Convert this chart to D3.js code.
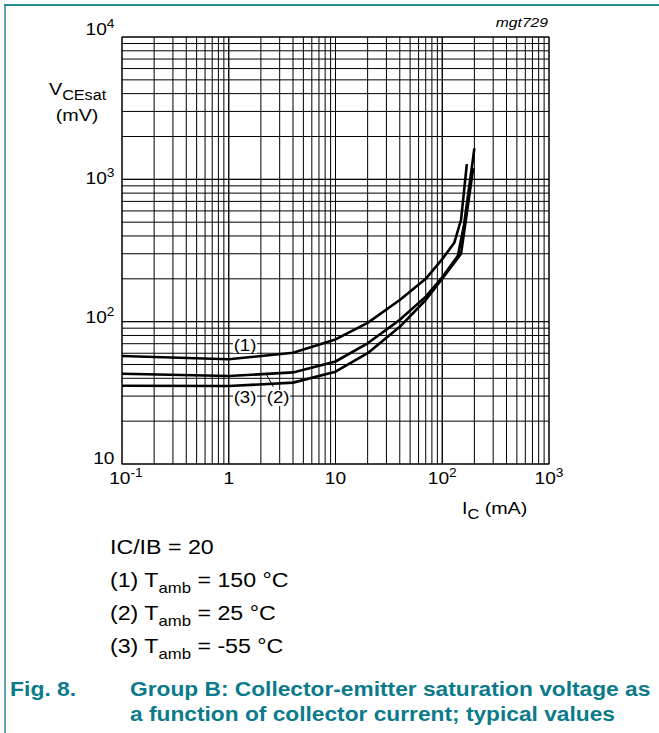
<!DOCTYPE html>
<html><head><meta charset="utf-8">
<script src="https://cdn.jsdelivr.net/npm/d3@7"></script>
<style>html,body{margin:0;padding:0;background:#fff;}svg{display:block;}</style>
</head><body>
<script>
// ---- data ----
const xTickValues = [0.1, 1, 10, 100, 1000];
const xTickLabels = [["10","-1"],["1",""],["10",""],["10","2"],["10","3"]];
const yTickValues = [10, 100, 1000, 10000];
const yTickLabels = [["10",""],["10","2"],["10","3"],["10","4"]];

const ic150 = [0.1, 1, 4, 10, 20, 40, 70, 100, 130, 150, 170];
const vce150 = [57.4, 54.4, 60.5, 75, 98, 142, 200, 275, 360, 520, 1280];
const ic25 = [0.1, 1, 4, 10, 20, 40, 70, 100, 140, 160, 200];
const vce25 = [43.1, 41.5, 44, 52.5, 70.5, 103, 150, 205, 290, 480, 1650];
const icm55 = [0.1, 1, 4, 10, 20, 40, 70, 100, 150, 195];
const vcem55 = [35.5, 35.3, 37.3, 44.5, 60, 92, 142, 200, 300, 1200];

const curveLabels = ["(1)", "(2)", "(3)"];
const curveLabelIc = [1.42, 2.9, 1.42];
const curveLabelV = [68.5, 29.1, 29.1];

const legendLines = [
  [["IC/IB = 20",""]],
  [["(1) T",""],["amb","sub"],[" = 150 °C",""]],
  [["(2) T",""],["amb","sub"],[" = 25 °C",""]],
  [["(3) T",""],["amb","sub"],[" = -55 °C",""]]
];
const captionNum = "Fig. 8.";
const captionLines = ["Group B: Collector-emitter saturation voltage as",
                      "a function of collector current; typical values"];

// ---- layout ----
const W = 659, H = 733;
const SX = 1.16; // horizontal text stretch of the reference
const FONT = "'Liberation Sans', Arial, Helvetica, sans-serif";
const teal = "#0b7b8b";

const svg = d3.select("body").append("svg").attr("width", W).attr("height", H);

// frame
svg.append("line").attr("x1",4).attr("x2",W).attr("y1",5).attr("y2",5)
  .attr("stroke","#2a8a94").attr("stroke-width",2);
svg.append("line").attr("x1",5).attr("x2",5).attr("y1",4).attr("y2",H)
  .attr("stroke","#2a8a94").attr("stroke-width",1.5);

const plot = {left:122, right:549, top:37, bottom:464};
const x = d3.scaleLog().domain([0.1, 1000]).range([plot.left, plot.right]);
const y = d3.scaleLog().domain([10, 10000]).range([plot.bottom, plot.top]);

function txt(parent, px, py, anchor, size, parts, opts={}) {
  const t = parent.append("text")
    .attr("transform", `translate(${px},${py}) scale(${opts.sx || SX},1)`)
    .attr("text-anchor", anchor)
    .attr("font-family", FONT)
    .attr("font-size", size)
    .attr("fill", opts.fill || "#000");
  if (opts.weight) t.attr("font-weight", opts.weight);
  if (opts.style) t.attr("font-style", opts.style);
  const subR = opts.subR || 0.72;
  let off = 0;
  parts.forEach(([s, kind]) => {
    if (!s) return;
    let target = 0, fs = size;
    if (kind === "sup") { target = -size*0.42; fs = size*0.72; }
    if (kind === "sub") { target = size*0.3; fs = size*subR; }
    t.append("tspan").attr("dy", target - off).attr("font-size", fs).text(s);
    off = target;
  });
  return t;
}

// grid
const grid = svg.append("g").attr("stroke","#000").attr("stroke-width",1).attr("fill","none");
const xMinor = [], yMinor = [];
for (let d = 0.1; d < 1000; d *= 10) for (let k = 1; k <= 10; k++) xMinor.push(d*k);
for (let d = 10; d < 10000; d *= 10) for (let k = 1; k <= 10; k++) yMinor.push(d*k);
grid.selectAll("line.v").data(xMinor).join("line")
  .attr("x1", d=>x(d)).attr("x2", d=>x(d)).attr("y1", plot.top).attr("y2", plot.bottom);
grid.selectAll("line.h").data(yMinor).join("line")
  .attr("y1", d=>y(d)).attr("y2", d=>y(d)).attr("x1", plot.left).attr("x2", plot.right);
grid.append("rect").attr("x",plot.left).attr("y",plot.top)
  .attr("width",plot.right-plot.left).attr("height",plot.bottom-plot.top);

// tick labels
const yOff = [0, 1.5, 4.5, -2.5];
yTickValues.forEach((v,i) => {
  txt(svg, 114.5, y(v) + yOff[i], "end", 16.5, [[yTickLabels[i][0],""],[yTickLabels[i][1],"sup"]]);
});
xTickValues.forEach((v,i) => {
  txt(svg, x(v) + (i===0?4:0), 484, "middle", 16.5, [[xTickLabels[i][0],""],[xTickLabels[i][1],"sup"]]);
});

// axis titles
txt(svg, 49, 95, "start", 17, [["V",""],["CEsat","sub"]], {subR:0.82});
txt(svg, 77, 121, "middle", 17, [["(mV)",""]]);
txt(svg, 462, 514, "start", 17, [["I",""],["C","sub"],[" (mA)",""]], {subR:0.82});
txt(svg, 548, 27, "end", 13.5, [["mgt729",""]], {style:"italic"});

// curve labels with white background
const lab = svg.append("g");
curveLabels.forEach((s,i) => {
  const cx = x(curveLabelIc[i]), cy = y(curveLabelV[i]);
  lab.append("rect").attr("x", cx-12).attr("y", cy-8).attr("width",24).attr("height",16).attr("fill","#fff");
  txt(lab, cx, cy+5.5, "middle", 16, [[s,""]]);
});
// leader line for (2)
svg.append("line")
  .attr("x1", x(2.27)).attr("y1", y(42.2)).attr("x2", x(2.61)).attr("y2", y(34.9))
  .attr("stroke","#000").attr("stroke-width",1);

// curves
const line = d3.line().x(d=>x(d[0])).y(d=>y(d[1]));
const series = [d3.zip(ic150, vce150), d3.zip(ic25, vce25), d3.zip(icm55, vcem55)];
svg.append("g").selectAll("path").data(series).join("path")
  .attr("d", line).attr("fill","none").attr("stroke","#000")
  .attr("stroke-width",2.6).attr("stroke-linejoin","round");

// legend
legendLines.forEach((parts,i) => {
  txt(svg, 110, 554 + i*33, "start", 20, parts);
});

// caption
txt(svg, 10, 696, "start", 19.6, [[captionNum,""]], {weight:"bold", fill:teal, sx:1.17});
captionLines.forEach((s,i) => {
  txt(svg, 130, 696 + i*25, "start", 19.6, [[s,""]], {weight:"bold", fill:teal, sx:1.16});
});
</script>
</body></html>
